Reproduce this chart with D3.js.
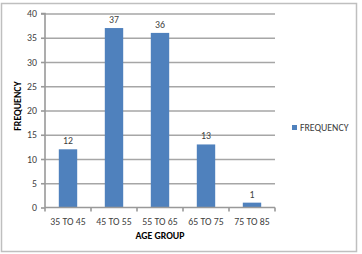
<!DOCTYPE html>
<html><head><meta charset="utf-8">
<script src="https://cdn.jsdelivr.net/npm/d3@7"></script>
<style>
html,body{margin:0;padding:0;background:#fff;}
svg{display:block;font-family:Carlito,Lato,"Liberation Sans",sans-serif;}
</style></head>
<body>
<svg id="c" width="362" height="254"></svg>
<script>
const categories = ["35 TO 45","45 TO 55","55 TO 65","65 TO 75","75 TO 85"];
const frequency = [12,37,36,13,1];
const yTicks = [0,5,10,15,20,25,30,35,40];
const seriesName = "FREQUENCY";
const xTitle = "AGE GROUP";
const yTitle = "FREQUENCY";

(function(){
const svg = d3.select("#c");
svg.append("rect").attr("x",1.5).attr("y",3.5).attr("width",355).attr("height",248)
  .attr("fill","#fff").attr("stroke","#bfbfbf").attr("stroke-width",1.5);

const pL=45, pR=275, pT=13.5, pB=207.5;
const x = d3.scaleBand().domain(categories).range([pL,pR]).paddingInner(0.6).paddingOuter(0.3);
const y = d3.scaleLinear().domain([0,40]).range([pB,pT]);

// gridlines via axis
const grid = svg.append("g").attr("class","grid").attr("transform",`translate(${pL},0)`)
  .call(d3.axisLeft(y).tickValues(yTicks.slice(1)).tickSize(-(pR-pL)).tickFormat(""));
grid.select(".domain").remove();
grid.selectAll(".tick line").attr("stroke","#a6a6a6").attr("stroke-width",1.6);

// y axis
const ya = svg.append("g").attr("transform",`translate(${pL},0)`)
  .call(d3.axisLeft(y).tickValues(yTicks).tickSize(4).tickPadding(4));
ya.select(".domain").attr("stroke","#999999").attr("stroke-width",1.6).attr("d",`M-4,${y(40)}H0V${y(0)}`);
ya.selectAll(".tick line").attr("stroke","#999999").attr("stroke-width",1.6);
ya.selectAll("text").attr("fill","#404040").attr("font-size",9.8).attr("font-family","Carlito,Lato,sans-serif");

// bars
svg.append("g").selectAll("rect").data(frequency).join("rect")
  .attr("x",(d,i)=>x(categories[i])).attr("width",x.bandwidth())
  .attr("y",d=>y(d)).attr("height",d=>pB-y(d)).attr("fill","#4f81bd");

// data labels
svg.append("g").selectAll("text").data(frequency).join("text")
  .attr("x",(d,i)=>x(categories[i])+x.bandwidth()/2).attr("y",d=>y(d)-5)
  .attr("text-anchor","middle").attr("font-size",9.8).attr("fill","#404040").text(d=>d);

// x axis
const xa = svg.append("g").attr("transform",`translate(0,${pB})`);
xa.append("line").attr("x1",pL).attr("x2",pR).attr("stroke","#999999").attr("stroke-width",1.6);
const bounds = d3.range(categories.length+1).map(i=>pL+(pR-pL)*i/categories.length);
xa.selectAll(".tk").data(bounds).join("line").attr("class","tk")
  .attr("x1",d=>d).attr("x2",d=>d).attr("y1",0).attr("y2",4).attr("stroke","#999999").attr("stroke-width",1.6);
xa.selectAll(".lbl").data(categories).join("text").attr("class","lbl")
  .attr("x",d=>x(d)+x.bandwidth()/2).attr("y",17).attr("text-anchor","middle")
  .attr("font-size",9.8).attr("fill","#404040").text(d=>d);

// titles
svg.append("text").attr("x",(pL+pR)/2).attr("y",239).attr("text-anchor","middle")
  .attr("font-size",9.8).attr("font-weight","bold").attr("fill","#000").text(xTitle);
svg.append("text").attr("transform","translate(21,106) rotate(-90)").attr("text-anchor","middle")
  .attr("font-size",9.8).attr("font-weight","bold").attr("fill","#000").text(yTitle);

// legend
svg.append("rect").attr("x",292).attr("y",125).attr("width",5).attr("height",5).attr("fill","#4f81bd");
svg.append("text").attr("x",300).attr("y",131).attr("font-size",9.8).attr("fill","#404040").text(seriesName);
})();
</script>
</body></html>
